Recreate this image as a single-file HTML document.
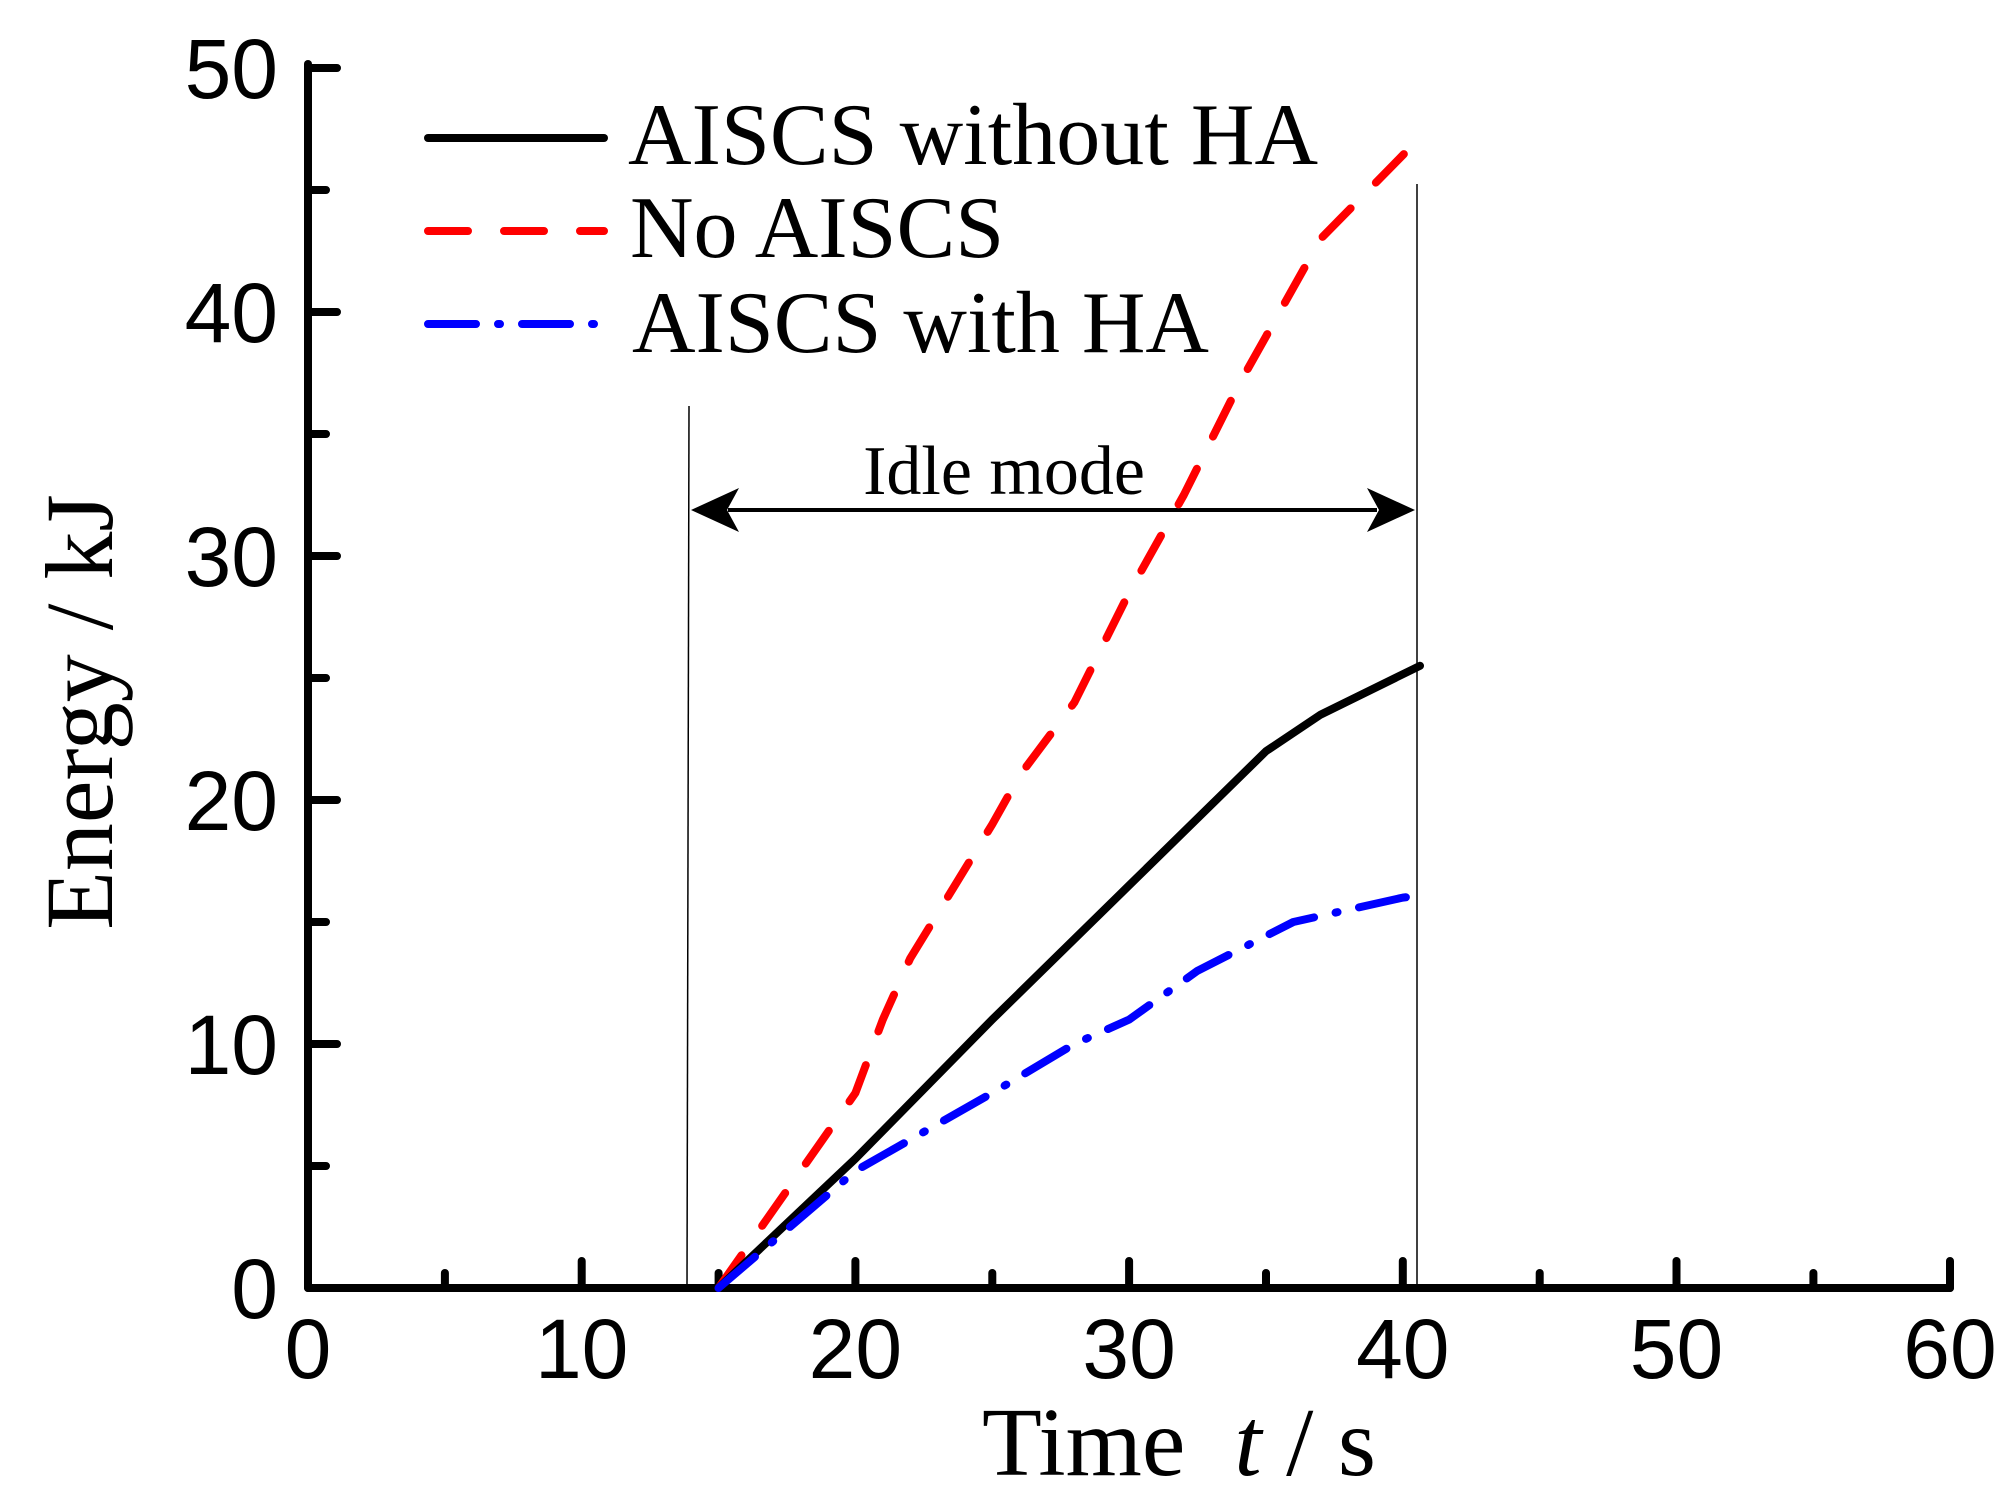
<!DOCTYPE html>
<html><head><meta charset="utf-8"><style>body{margin:0;background:#fff}svg{display:block}</style></head><body>
<svg width="2013" height="1494" viewBox="0 0 2013 1494" xmlns="http://www.w3.org/2000/svg">
<rect width="2013" height="1494" fill="#fff"/>
<g stroke="#000" stroke-width="8" stroke-linecap="round" fill="none">
<line x1="308" y1="64" x2="308" y2="1288"/>
<line x1="308" y1="1288" x2="1950" y2="1288"/>
<path d="M308 68h29M308 190h18M308 312h29M308 434h18M308 556h29M308 678h18M308 800h29M308 922h18M308 1044h29M308 1166h18"/>
<path d="M444.9 1288v-15M581.7 1288v-27M718.6 1288v-15M855.4 1288v-27M992.3 1288v-15M1129.1 1288v-27M1266 1288v-15M1402.8 1288v-27M1539.7 1288v-15M1676.5 1288v-27M1813.4 1288v-15M1950 1288v-27"/>
</g>
<g font-family="Liberation Sans, sans-serif" font-size="84" fill="#000">
<g text-anchor="end"><text x="278" y="98">50</text><text x="278" y="342">40</text><text x="278" y="586">30</text><text x="278" y="830">20</text><text x="278" y="1074">10</text><text x="278" y="1318">0</text></g>
<g text-anchor="middle"><text x="308" y="1378">0</text><text x="581.7" y="1378">10</text><text x="855.4" y="1378">20</text><text x="1129.1" y="1378">30</text><text x="1402.8" y="1378">40</text><text x="1676.5" y="1378">50</text><text x="1950" y="1378">60</text></g>
</g>
<g stroke="#000" stroke-width="1.5"><line x1="689" y1="406" x2="687" y2="1288"/><line x1="1417" y1="184" x2="1417" y2="1284"/></g>
<line x1="728" y1="510" x2="1377" y2="510" stroke="#000" stroke-width="4"/>
<polygon points="691,510 739,488 727,510 739,532" fill="#000"/>
<polygon points="1415,510 1367,488 1379,510 1367,532" fill="#000"/>
<text x="1004" y="494" font-family="Liberation Serif, serif" font-size="70" text-anchor="middle">Idle mode</text>
<g fill="none" stroke-width="8" stroke-linecap="round" stroke-linejoin="round">
<polyline stroke="#f00" stroke-dasharray="40 36" points="718.5,1288 855.4,1093 882.8,1019.6 910.1,958.6 992.2,824.4 1019.6,775.6 1074.4,702.4 1129.1,592.6 1183.8,495 1238.6,385.2 1266,336.4 1320.7,238.8 1416.5,141.2"/>
<polyline stroke="#000" points="718.5,1288 855.4,1158.7 992.2,1019.6 1129.1,885.4 1266,751.2 1320.7,714.6 1420,665.8"/>
<polyline stroke="#00f" stroke-dasharray="48 22 2 22" points="718.5,1288 855.4,1170.9 992.2,1093 1074.4,1044 1129.1,1019.6 1197.5,970.8 1293.3,922 1402.8,897.6 1416,896"/>
<line x1="428" y1="138" x2="604" y2="138" stroke="#000"/>
<line x1="428" y1="231" x2="604" y2="231" stroke="#f00" stroke-dasharray="40 36"/>
<line x1="428" y1="324" x2="604" y2="324" stroke="#00f" stroke-dasharray="48 22 2 22"/>
</g>
<g font-family="Liberation Serif, serif" font-size="88" fill="#000">
<text x="628" y="164" textLength="690">AISCS without HA</text>
<text x="630" y="257">No AISCS</text>
<text x="632" y="352">AISCS with HA</text>
<text x="982" y="1475" font-size="98" xml:space="preserve">Time  <tspan font-style="italic">t</tspan> / s</text>
<text transform="translate(112,712) rotate(-90)" text-anchor="middle" font-size="96">Energy / kJ</text>
</g>
</svg>
</body></html>
